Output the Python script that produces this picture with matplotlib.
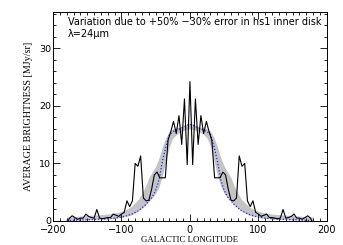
import matplotlib
matplotlib.use("Agg")
import matplotlib.pyplot as plt
import numpy as np
from matplotlib.ticker import MultipleLocator

# Observed profile (right half, mirrored), step 4 deg
obs_l_half = [0, 4, 8, 12, 16, 20, 24, 28, 32, 36, 40, 44, 48, 52, 56, 60, 64, 68,
              72, 76, 80, 84, 88, 92, 96, 100, 104, 108, 112, 116, 120, 124, 128,
              132, 136, 140, 144, 148, 152, 156, 160, 164, 168, 172, 176, 178]
obs_b_half = [24.2, 9.8, 21.2, 13.3, 18.3, 15.2, 17.3, 15.5, 14.0, 7.5, 7.5, 7.5,
              8.5, 8.0, 5.5, 3.6, 3.5, 4.0, 11.3, 9.5, 10.0, 3.5, 2.5, 3.5, 1.5,
              1.2, 0.8, 1.0, 1.2, 0.6, 0.6, 0.5, 0.4, 0.5, 2.0, 0.5, 0.6, 0.8,
              1.2, 0.5, 0.5, 0.3, 0.6, 0.9, 0.5, 0.0]

# Model curves (right half, mirrored), step 5 deg
mod_l_half = [0, 5, 10, 15, 20, 25, 30, 35, 40, 45, 50, 55, 60, 65, 70, 75, 80, 85,
              90, 95, 100, 105, 110, 115, 120, 125, 130, 135, 140, 145, 150, 155,
              160, 165, 170, 175, 180]
model_blue = [16.8, 16.6, 16.3, 16.0, 15.8, 15.5, 15.0, 13.0, 10.5, 7.2, 5.3, 4.2,
              3.5, 2.8, 2.3, 1.8, 1.5, 1.2, 1.0, 0.8, 0.7, 0.6, 0.5, 0.45, 0.4,
              0.35, 0.3, 0.3, 0.25, 0.25, 0.2, 0.2, 0.15, 0.15, 0.1, 0.1, 0.1]
band_upper = [17.0, 16.8, 16.5, 16.3, 16.2, 16.0, 15.6, 14.5, 13.0, 11.0, 9.5, 8.5,
              7.5, 6.0, 4.8, 3.8, 3.2, 2.6, 2.2, 1.9, 1.7, 1.5, 1.4, 1.3, 1.2,
              1.15, 1.1, 1.05, 1.0, 1.0, 0.95, 0.9, 0.85, 0.8, 0.75, 0.7, 0.7]
band_lower = [16.0, 15.9, 15.7, 15.4, 15.0, 14.4, 13.0, 10.5, 8.0, 6.0, 4.8, 4.0,
              3.4, 2.7, 2.2, 1.8, 1.4, 1.1, 0.9, 0.8, 0.6, 0.5, 0.45, 0.4, 0.35,
              0.3, 0.3, 0.28, 0.25, 0.25, 0.22, 0.2, 0.2, 0.18, 0.15, 0.15, 0.15]

title_text = "Variation due to +50% \u221230% error in hs1 inner disk"
wave_text = "\u03bb=24\u03bcm"


def mirror(xh, yh):
    xh = np.asarray(xh, float)
    yh = np.asarray(yh, float)
    x = np.concatenate([-xh[::-1], xh[1:]])
    y = np.concatenate([yh[::-1], yh[1:]])
    return x, y


plt.rcParams['font.family'] = ['DejaVu Sans']
fig = plt.figure(figsize=(3.43, 2.45), dpi=100)
ax = fig.add_axes([0.1545, 0.098, 0.7985, 0.853])

lx, up = mirror(mod_l_half, band_upper)
_, lo = mirror(mod_l_half, band_lower)
_, bl = mirror(mod_l_half, model_blue)
ax.fill_between(lx, lo, up, color='#c4c4c4', lw=0, zorder=1)
ax.plot(lx, bl, color='#2222ff', ls=(0, (1, 1.5)), lw=0.9, zorder=2)
ox, oy = mirror(obs_l_half, obs_b_half)
ax.plot(ox, oy, color='black', lw=0.8, zorder=3)

ax.set_xlim(-200, 200)
ax.set_ylim(0, 36.3)
ax.xaxis.set_major_locator(MultipleLocator(100))
ax.xaxis.set_minor_locator(MultipleLocator(10))
ax.yaxis.set_major_locator(MultipleLocator(10))
ax.yaxis.set_minor_locator(MultipleLocator(2))
ax.tick_params(which='both', direction='in', top=True, right=True, width=0.6)
ax.tick_params(which='major', length=5)
ax.tick_params(axis='x', which='major', pad=3.0, labelsize=7)
ax.tick_params(axis='y', which='major', pad=1.5, labelsize=6.8)
ax.tick_params(which='minor', length=2.5)
ax.xaxis.set_major_formatter(matplotlib.ticker.FuncFormatter(lambda v, p: f"{int(v)}".replace('-', '\u2212')))
for s in ax.spines.values():
    s.set_linewidth(0.7)

ax.set_xlabel("GALACTIC LONGITUDE", fontsize=6.3, labelpad=0.3, family='Liberation Serif')
ax.set_ylabel("AVERAGE BRIGHTNESS [MJy/sr]", fontsize=7.3, labelpad=4, family='Liberation Serif')

ax.text(0.055, 0.952, title_text, transform=ax.transAxes, fontsize=7, va='center', ha='left')
ax.text(0.055, 0.895, wave_text, transform=ax.transAxes, fontsize=7, va='center', ha='left')

fig.savefig("out.png", dpi=100)
